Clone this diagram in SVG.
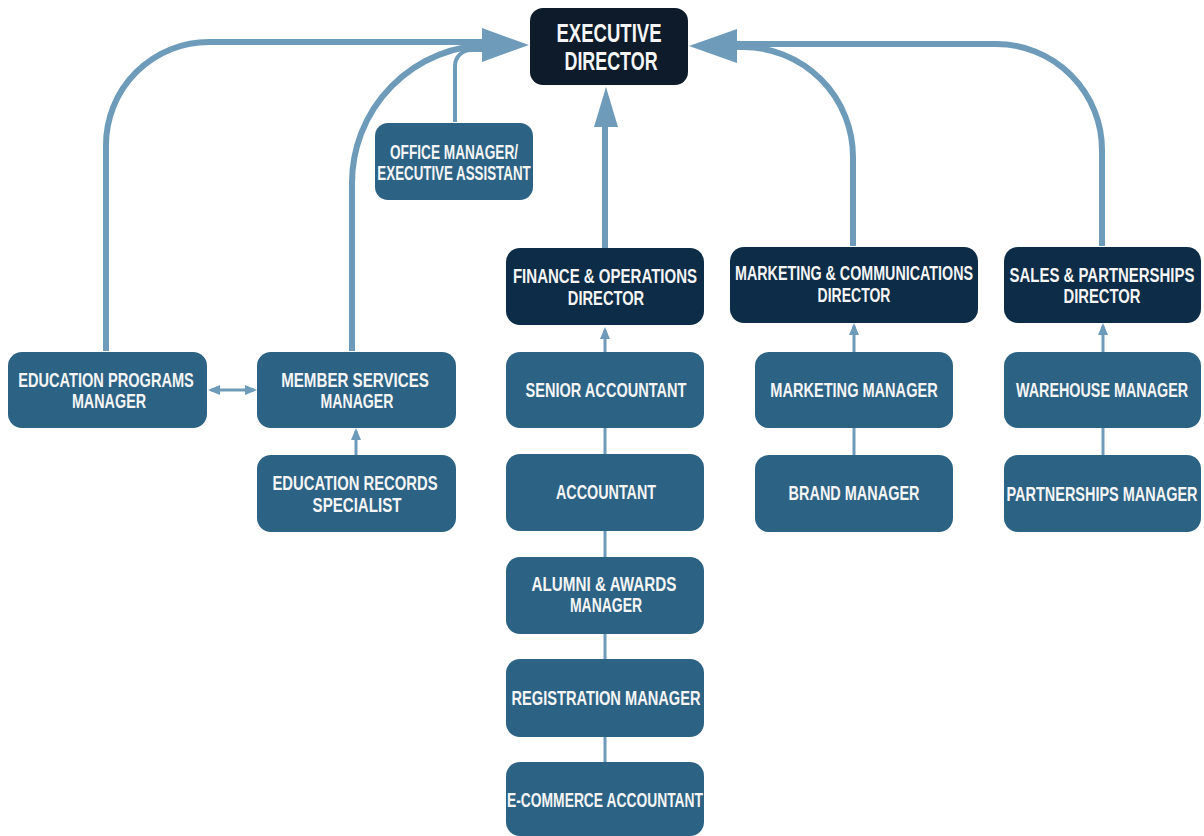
<svg xmlns="http://www.w3.org/2000/svg" width="1204" height="836" viewBox="0 0 1204 836">
<defs>
<marker id="ah" viewBox="0 0 12 10" refX="9" refY="5" markerWidth="12" markerHeight="10" markerUnits="userSpaceOnUse" orient="auto-start-reverse">
<path d="M0,0 L12,5 L0,10 z" fill="#6e9bba"/>
</marker>
</defs>
<style>
.n{fill:#2c6284}
.d{fill:#0c2c47}
.e{fill:#0d1b2a}
.t{font-family:"Liberation Sans Narrow","Liberation Sans","DejaVu Sans Condensed",sans-serif;font-weight:bold;font-size:21px;fill:#f5f5f5;text-anchor:middle}
.big{font-size:25px}
.c{fill:none;stroke:#6e9bba;stroke-width:6}
.c4{fill:none;stroke:#6e9bba;stroke-width:4}
.s{fill:none;stroke:#6e9bba;stroke-width:3}
.h{fill:#6e9bba}
</style>
<rect width="1204" height="836" fill="#ffffff"/>
<g id="connectors">
<path class="c" d="M106,351 V145 A103,103 0 0 1 209,42 H490"/>
<path class="c" d="M352,351 V185 A138,138 0 0 1 490,45"/>
<path class="c4" d="M455,122 V66 A16,16 0 0 1 471,50 H490"/>
<polygon class="h" points="482,28 529,45 482,62"/>
<path class="c" d="M605,248 V120"/>
<polygon class="h" points="594,127 606,87 618,127"/>
<path class="c" d="M1102,246 V150 A106,106 0 0 0 996,44 H730"/>
<path class="c" d="M853,246 V157 A110,110 0 0 0 743,47 H730"/>
<polygon class="h" points="737,29 689,46 737,63"/>
<path class="s" d="M605,352 V330" marker-end="url(#ah)"/>
<path class="s" d="M605,428 V454 M605,531 V557 M605,634 V659 M605,737 V762"/>
<path class="s" d="M356,455 V431" marker-end="url(#ah)"/>
<path class="s" d="M211,390 H254" marker-start="url(#ah)" marker-end="url(#ah)"/>
<path class="s" d="M854,352 V326" marker-end="url(#ah)"/>
<path class="s" d="M854,428 V455"/>
<path class="s" d="M1103,352 V326" marker-end="url(#ah)"/>
<path class="s" d="M1103,428 V455"/>
</g>
<g id="executive-director"><rect class="e" x="530" y="8" width="158" height="77" rx="13"/>
<text class="t big" x="0" y="42" transform="translate(609,0) scale(0.7,1)" textLength="150" lengthAdjust="spacingAndGlyphs">EXECUTIVE</text>
<text class="t big" x="0" y="70" transform="translate(611,0) scale(0.7,1)" textLength="133" lengthAdjust="spacingAndGlyphs">DIRECTOR</text></g>
<g id="office-manager"><rect class="n" x="375" y="123" width="158" height="77" rx="13"/>
<text class="t" x="0" y="159" transform="translate(454,0) scale(0.7,1)" textLength="183" lengthAdjust="spacingAndGlyphs">OFFICE MANAGER/</text>
<text class="t" x="0" y="180" transform="translate(454,0) scale(0.7,1)" textLength="219" lengthAdjust="spacingAndGlyphs">EXECUTIVE ASSISTANT</text></g>
<g id="finance-director"><rect class="d" x="506" y="248" width="198" height="77" rx="14"/>
<text class="t" x="0" y="283" transform="translate(605,0) scale(0.7,1)" textLength="263" lengthAdjust="spacingAndGlyphs">FINANCE &amp; OPERATIONS</text>
<text class="t" x="0" y="305" transform="translate(606,0) scale(0.7,1)" textLength="109" lengthAdjust="spacingAndGlyphs">DIRECTOR</text></g>
<g id="marketing-director"><rect class="d" x="730" y="247" width="248" height="76" rx="14"/>
<text class="t" x="0" y="280" transform="translate(854,0) scale(0.7,1)" textLength="340" lengthAdjust="spacingAndGlyphs">MARKETING &amp; COMMUNICATIONS</text>
<text class="t" x="0" y="302" transform="translate(854,0) scale(0.7,1)" textLength="104" lengthAdjust="spacingAndGlyphs">DIRECTOR</text></g>
<g id="sales-director"><rect class="d" x="1004" y="247" width="197" height="76" rx="14"/>
<text class="t" x="0" y="282" transform="translate(1102,0) scale(0.7,1)" textLength="264" lengthAdjust="spacingAndGlyphs">SALES &amp; PARTNERSHIPS</text>
<text class="t" x="0" y="303" transform="translate(1102,0) scale(0.7,1)" textLength="110" lengthAdjust="spacingAndGlyphs">DIRECTOR</text></g>
<g id="education-programs-manager"><rect class="n" x="8" y="352" width="199" height="76" rx="14"/>
<text class="t" x="0" y="387" transform="translate(106,0) scale(0.7,1)" textLength="251" lengthAdjust="spacingAndGlyphs">EDUCATION PROGRAMS</text>
<text class="t" x="0" y="408" transform="translate(109,0) scale(0.7,1)" textLength="106" lengthAdjust="spacingAndGlyphs">MANAGER</text></g>
<g id="member-services-manager"><rect class="n" x="257" y="352" width="199" height="76" rx="14"/>
<text class="t" x="0" y="387" transform="translate(355,0) scale(0.7,1)" textLength="211" lengthAdjust="spacingAndGlyphs">MEMBER SERVICES</text>
<text class="t" x="0" y="408" transform="translate(357,0) scale(0.7,1)" textLength="104" lengthAdjust="spacingAndGlyphs">MANAGER</text></g>
<g id="education-records-specialist"><rect class="n" x="257" y="455" width="199" height="77" rx="14"/>
<text class="t" x="0" y="490" transform="translate(355,0) scale(0.7,1)" textLength="236" lengthAdjust="spacingAndGlyphs">EDUCATION RECORDS</text>
<text class="t" x="0" y="512" transform="translate(357,0) scale(0.7,1)" textLength="127" lengthAdjust="spacingAndGlyphs">SPECIALIST</text></g>
<g id="senior-accountant"><rect class="n" x="506" y="352" width="198" height="76" rx="14"/>
<text class="t" x="0" y="397" transform="translate(606,0) scale(0.7,1)" textLength="230" lengthAdjust="spacingAndGlyphs">SENIOR ACCOUNTANT</text></g>
<g id="accountant"><rect class="n" x="506" y="454" width="198" height="77" rx="14"/>
<text class="t" x="0" y="499" transform="translate(606,0) scale(0.7,1)" textLength="143" lengthAdjust="spacingAndGlyphs">ACCOUNTANT</text></g>
<g id="alumni-awards-manager"><rect class="n" x="506" y="557" width="198" height="77" rx="14"/>
<text class="t" x="0" y="591" transform="translate(604,0) scale(0.7,1)" textLength="207" lengthAdjust="spacingAndGlyphs">ALUMNI &amp; AWARDS</text>
<text class="t" x="0" y="612" transform="translate(606,0) scale(0.7,1)" textLength="103" lengthAdjust="spacingAndGlyphs">MANAGER</text></g>
<g id="registration-manager"><rect class="n" x="506" y="659" width="198" height="78" rx="14"/>
<text class="t" x="0" y="705" transform="translate(606,0) scale(0.7,1)" textLength="270" lengthAdjust="spacingAndGlyphs">REGISTRATION MANAGER</text></g>
<g id="ecommerce-accountant"><rect class="n" x="506" y="762" width="198" height="74" rx="14"/>
<text class="t" x="0" y="807" transform="translate(605,0) scale(0.7,1)" textLength="280" lengthAdjust="spacingAndGlyphs">E-COMMERCE ACCOUNTANT</text></g>
<g id="marketing-manager"><rect class="n" x="755" y="352" width="198" height="76" rx="14"/>
<text class="t" x="0" y="397" transform="translate(854,0) scale(0.7,1)" textLength="239" lengthAdjust="spacingAndGlyphs">MARKETING MANAGER</text></g>
<g id="brand-manager"><rect class="n" x="755" y="455" width="198" height="77" rx="14"/>
<text class="t" x="0" y="500" transform="translate(854,0) scale(0.7,1)" textLength="187" lengthAdjust="spacingAndGlyphs">BRAND MANAGER</text></g>
<g id="warehouse-manager"><rect class="n" x="1004" y="352" width="197" height="76" rx="14"/>
<text class="t" x="0" y="397" transform="translate(1102,0) scale(0.7,1)" textLength="246" lengthAdjust="spacingAndGlyphs">WAREHOUSE MANAGER</text></g>
<g id="partnerships-manager"><rect class="n" x="1004" y="455" width="197" height="77" rx="14"/>
<text class="t" x="0" y="501" transform="translate(1102,0) scale(0.7,1)" textLength="273" lengthAdjust="spacingAndGlyphs">PARTNERSHIPS MANAGER</text></g>
</svg>
